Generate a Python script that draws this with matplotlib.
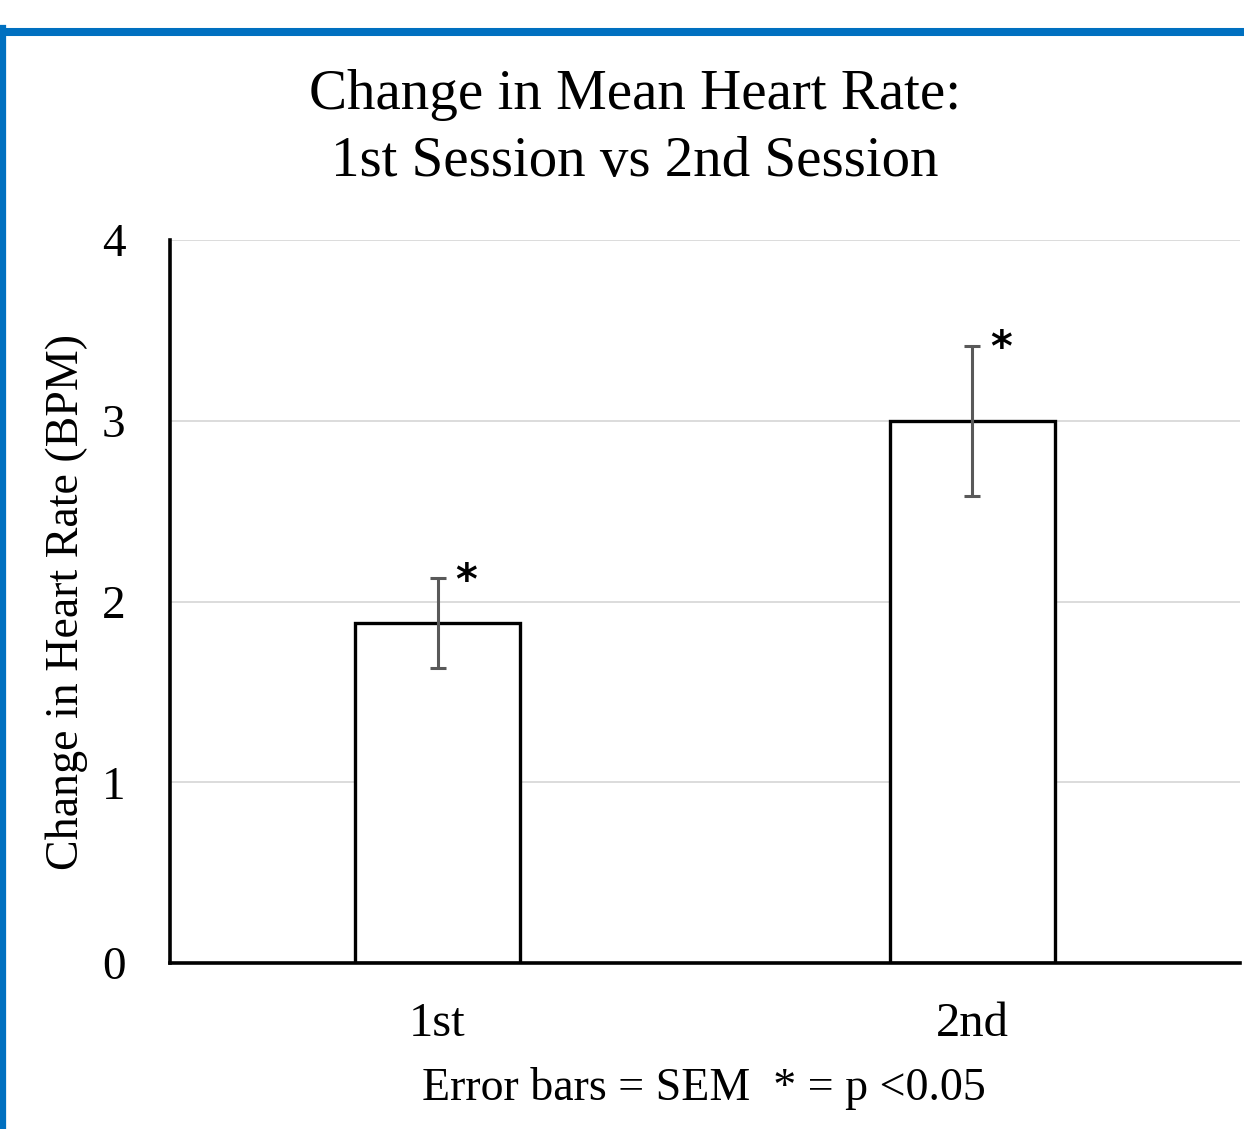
import matplotlib
matplotlib.use("Agg")
import matplotlib.pyplot as plt
from matplotlib.lines import Line2D

# data
sessions = ["1st", "2nd"]
mean_change = [1.88, 3.00]
sem = [0.25, 0.415]
yticks = [0, 1, 2, 3, 4]

plt.rcParams['font.family'] = ['Liberation Serif', 'DejaVu Serif']

fig = plt.figure(figsize=(12.44, 11.29), dpi=100)
ax = fig.add_axes([0.1367, 0.147, 0.86, 0.6404])

x = list(range(len(sessions)))
ax.bar(x, mean_change, width=0.31, color="white", edgecolor="black", linewidth=2.4, zorder=2)
ax.errorbar(x, mean_change, yerr=sem, fmt="none", ecolor="#595959", elinewidth=2.2,
            capsize=6, capthick=2.2, zorder=3)

for xi, m, s in zip(x, mean_change, sem):
    ax.text(xi + 0.053, m + s - 0.02, "*", fontsize=30, fontweight="bold",
            family="DejaVu Sans", ha="center", va="center", zorder=4)

ax.set_xlim(-0.5, 1.5)
ax.set_ylim(0, 4)
ax.set_yticks(yticks)
ax.set_xticks(x)
ax.set_xticklabels(sessions)
ax.tick_params(axis="y", length=0, labelsize=34, pad=32)
ax.tick_params(axis="x", length=0, labelsize=35, pad=28)
ax.yaxis.grid(True, color="#d9d9d9", linewidth=1.3, zorder=0)
ax.set_axisbelow(True)

for side in ["top", "right"]:
    ax.spines[side].set_visible(False)
for side in ["left", "bottom"]:
    ax.spines[side].set_linewidth(2.6)
    ax.spines[side].set_color("black")

ax.set_ylabel("Change in Heart Rate (BPM)", fontsize=33)
ax.yaxis.set_label_coords(-0.077, 0.5)

fig.text(0.5105, 0.886, "Change in Mean Heart Rate:\n1st Session vs 2nd Session",
         ha="center", va="center", fontsize=41, linespacing=1.38)
fig.text(0.566, 0.036, "Error bars = SEM  * = p <0.05", ha="center", va="center", fontsize=33)

# blue frame along top and left edges
fig.add_artist(Line2D([0, 1], [1 - 32 / 1129, 1 - 32 / 1129], color="#0070C0",
                      linewidth=5.8, transform=fig.transFigure))
fig.add_artist(Line2D([3 / 1244, 3 / 1244], [0, 1 - 28 / 1129], color="#0070C0",
                      linewidth=4.5, transform=fig.transFigure))

fig.savefig("out.png", dpi=100)
